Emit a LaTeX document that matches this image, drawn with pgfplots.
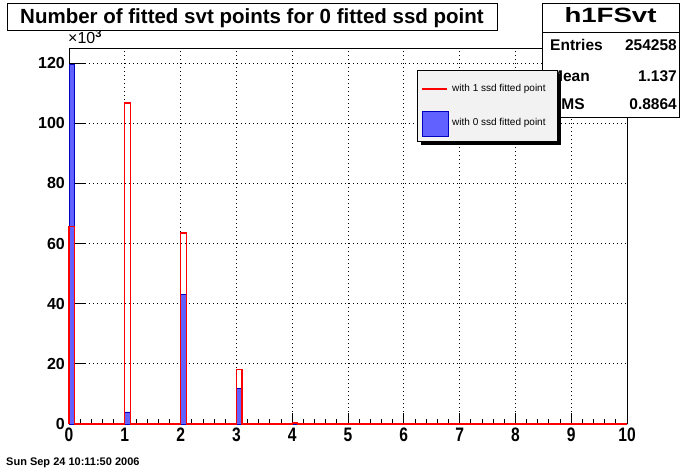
\documentclass[border=0pt]{standalone}
\usepackage{pgfplots}
\pgfplotsset{compat=1.18}
\usepackage{fontspec}
\setmainfont{Liberation Sans}
\usepackage{graphicx}
\newcommand\xl[1]{\scalebox{0.8}[1]{#1}}
\begin{document}
\begin{tikzpicture}[x=1pt,y=1pt]
\useasboundingbox (0,0) rectangle (696,472);
\fill[white] (0,0) rectangle (696,472);

% axis A: y axis, y grid
\begin{axis}[at={(69pt,48pt)}, anchor=south west, scale only axis,
  width=558pt, height=376pt,
  xmin=0, xmax=10, ymin=0, ymax=125,
  hide x axis,
  ytick={0,20,40,60,80,100,120},
  yticklabels={0,20,40,60,80,100,120},
  minor y tick num=3,
  ytick pos=left, tick align=inside,
  major tick length=17pt, minor tick length=6pt,
  ymajorgrids,
  major grid style={black, line width=0.8pt, dash pattern=on 0.9pt off 3.1pt},
  axis line style={black, line width=0.8pt},
  tick style={black, line width=0.8pt},
  yticklabel style={font=\fontsize{16}{16}\selectfont\bfseries, inner sep=0pt, xshift=-4pt},
]
\end{axis}

% axis B: x axis, bars
\begin{axis}[at={(69pt,48pt)}, anchor=south west, scale only axis,
  width=558pt, height=376pt,
  xmin=0, xmax=10, ymin=0, ymax=125,
  hide y axis, clip=false,
  xtick={0,1,2,3,4,5,6,7,8,9,10},
  xticklabels={\xl{0},\xl{1},\xl{2},\xl{3},\xl{4},\xl{5},\xl{6},\xl{7},\xl{8},\xl{9},\xl{10}},
  minor x tick num=4,
  xtick pos=bottom, tick align=inside,
  major tick length=11pt, minor tick length=5pt,
  xmajorgrids,
  major grid style={black, line width=0.8pt, dash pattern=on 0.9pt off 3.1pt},
  axis line style={black, line width=0.8pt},
  tick style={black, line width=0.8pt},
  xticklabel style={font=\fontsize{19.5}{19.5}\selectfont\bfseries, inner sep=0pt, yshift=-4pt},
]
% with 0 ssd fitted point (blue, filled)
\addplot[const plot, fill=blue!62, draw=blue!75!black, line width=0.8pt]
  coordinates {(0,0) (0,119.4) (0.1,0) (1,4.0) (1.1,0) (2,43.0) (2.1,0) (3,11.7) (3.1,0) (10,0)} \closedcycle;
% with 1 ssd fitted point (red outline)
\addplot[const plot, draw=red, line width=1.2pt]
  coordinates {(0,0) (0,65.7) (0.1,0) (1,106.7) (1.1,0) (2,63.5) (2.1,0) (3,18.0) (3.1,0) (4,0.3) (4.1,0) (10,0)};
\end{axis}

% x10^3
\node[anchor=base west, inner sep=0] at (68,428) {\fontsize{16}{16}\selectfont ×10\textsuperscript{\bfseries 3}};

% title box
\draw[line width=0.8pt, fill=white] (7.5,469) rectangle (497,442);
\node[anchor=base, inner sep=0] at (252,448.5) {\fontsize{20.5}{20.5}\selectfont\bfseries Number of fitted svt points for 0 fitted ssd point};

% stats box
\draw[line width=0.8pt, fill=white] (542,469) rectangle (679,355);
\draw[line width=0.8pt] (542,440) -- (679,440);
\node[anchor=base, inner sep=0] at (610.5,449) {\resizebox{92pt}{15pt}{\bfseries h1FSvt}};
\node[anchor=base west, inner sep=0] at (550,421) {\fontsize{15.5}{15.5}\selectfont\bfseries Entries};
\node[anchor=base east, inner sep=0] at (677,421) {\fontsize{15.5}{15.5}\selectfont\bfseries 254258};
\node[anchor=base west, inner sep=0] at (550,390) {\fontsize{15.5}{15.5}\selectfont\bfseries Mean};
\node[anchor=base east, inner sep=0] at (677,390) {\fontsize{15.5}{15.5}\selectfont\bfseries 1.137};
\node[anchor=base west, inner sep=0] at (550,362) {\fontsize{15.5}{15.5}\selectfont\bfseries RMS};
\node[anchor=base east, inner sep=0] at (677,362) {\fontsize{15.5}{15.5}\selectfont\bfseries 0.8864};

% legend
\fill[black] (421,398) rectangle (561,327);
\draw[line width=0.8pt, fill=black!5] (417,402) rectangle (557,331);
\draw[red, line width=1.2pt] (422,383) -- (447,383);
\node[anchor=west, inner sep=0] at (452,383) {\fontsize{10}{10}\selectfont with 1 ssd fitted point};
\draw[blue!75!black, line width=0.8pt, fill=blue!62] (422,361) rectangle (448,336);
\node[anchor=west, inner sep=0] at (452,349) {\fontsize{10}{10}\selectfont with 0 ssd fitted point};

% date
\node[anchor=base west, inner sep=0] at (6,7) {\fontsize{11}{11}\selectfont\bfseries Sun Sep 24 10:11:50 2006};
\end{tikzpicture}
\end{document}
